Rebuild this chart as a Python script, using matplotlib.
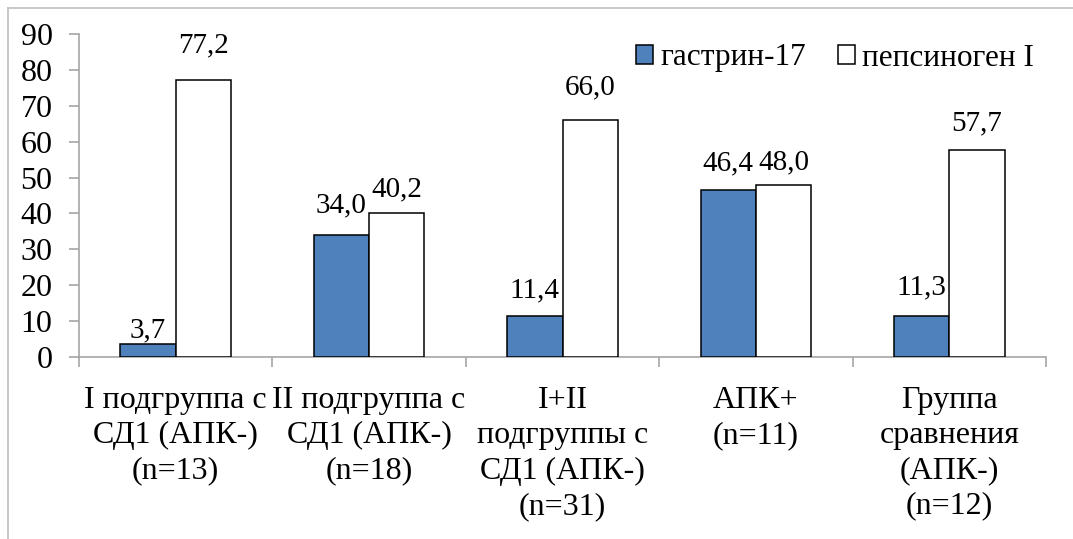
import matplotlib
matplotlib.use("Agg")
import matplotlib.pyplot as plt
from matplotlib.lines import Line2D
import numpy as np

categories = ["I подгруппа с\nСД1 (АПК-)\n(n=13)",
              "II подгруппа с\nСД1 (АПК-)\n(n=18)",
              "I+II\nподгруппы с\nСД1 (АПК-)\n(n=31)",
              "АПК+\n(n=11)",
              "Группа\nсравнения\n(АПК-)\n(n=12)"]
gastrin = [3.7, 34.0, 11.4, 46.4, 11.3]
pepsinogen = [77.2, 40.2, 66.0, 48.0, 57.7]
series_names = ["гастрин-17", "пепсиноген I"]
yticks = [0, 10, 20, 30, 40, 50, 60, 70, 80, 90]

# label offsets above bar tops (pixels), style only
off_g = [13, 30, 26, 27, 29]
off_p = [35, 23, 33, 22, 27]

plt.rcParams['font.family'] = ['Liberation Serif', 'DejaVu Serif']

W, H = 1073, 539
fig = plt.figure(figsize=(W / 100, H / 100), dpi=100)
ax = fig.add_axes([79 / W, 1 - 357 / H, (1046 - 79) / W, (357 - 34) / H])

n = len(categories)
x = np.arange(n)
bw = 1 / 3.5
blue = "#4F81BD"
b1 = ax.bar(x - bw / 2, gastrin, bw, color=blue, edgecolor="black", linewidth=1.1,
            label=series_names[0], zorder=3)
b2 = ax.bar(x + bw / 2, pepsinogen, bw, color="white", edgecolor="black", linewidth=1.1,
            label=series_names[1], zorder=3)

def fmt(v):
    return f"{v:.1f}".replace(".", ",")

for bars, vals, offs in ((b1, gastrin, off_g), (b2, pepsinogen, off_p)):
    for r, v, o in zip(bars, vals, offs):
        ax.annotate(fmt(v), (r.get_x() + r.get_width() / 2, v),
                    xytext=(0, o), textcoords="offset pixels",
                    ha="center", va="center", fontsize=21, color="black")

ax.set_xlim(-0.5, n - 0.5)
ax.set_ylim(0, 90)
ax.set_yticks(yticks)
ax.set_yticklabels([str(t) for t in yticks], fontsize=23)

ax.set_xticks(np.arange(n + 1) - 0.5)
ax.set_xticklabels([])
ax.set_xticks(x, minor=True)
ax.set_xticklabels(categories, minor=True, fontsize=23, linespacing=1.28)
ax.tick_params(axis="x", which="minor", length=0, pad=21)
ax.tick_params(axis="x", which="major", length=7, width=1.2, color="#A6A6A6", direction="out")
ax.tick_params(axis="y", length=7, width=1.2, color="#A6A6A6", direction="out", pad=12)

for s in ("top", "right"):
    ax.spines[s].set_visible(False)
for s in ("left", "bottom"):
    ax.spines[s].set_color("#A6A6A6")
    ax.spines[s].set_linewidth(1.2)

leg = fig.legend(handles=[b1, b2], labels=series_names, loc="center",
                 bbox_to_anchor=(835 / W, 1 - 58 / H), ncol=2, frameon=False,
                 fontsize=22.5, handlelength=0.55, handleheight=0.55, handletextpad=0.25,
                 columnspacing=1.0, borderpad=0)

# outer frame (left and top edges visible)
fig.add_artist(Line2D([7.5 / W, 7.5 / W], [0, 1 - 8 / H], transform=fig.transFigure,
                      color="#BFBFBF", linewidth=1.2))
fig.add_artist(Line2D([7.5 / W, 1], [1 - 8 / H, 1 - 8 / H], transform=fig.transFigure,
                      color="#BFBFBF", linewidth=1.2))

fig.savefig("out.png", dpi=100)
